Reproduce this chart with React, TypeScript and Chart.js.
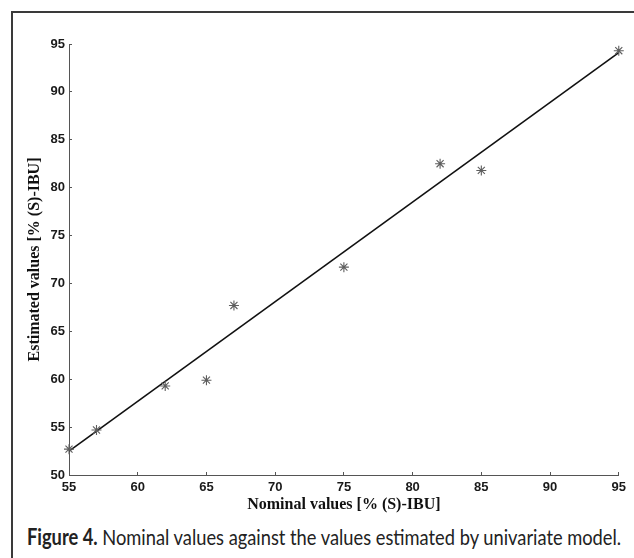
import React, { useEffect, useLayoutEffect, useRef } from "react";
import { Chart, registerables } from "chart.js";

Chart.register(...registerables);

// Data
const nominal = [55, 57, 62, 65, 67, 75, 82, 85, 95];
const estimated = [52.7, 54.7, 59.3, 59.9, 67.7, 71.7, 82.5, 81.8, 94.3];
const fitX = [55, 95];
const fitY = [52.5, 94.1];
const xTicks = [55, 60, 65, 70, 75, 80, 85, 90, 95];
const yTicks = [50, 55, 60, 65, 70, 75, 80, 85, 90, 95];

const xTitle = "Nominal values [% (S)-IBU]";
const yTitle = "Estimated values [% (S)-IBU]";

export default function App() {
  const ref = useRef<HTMLCanvasElement>(null);
  const capRef = useRef<HTMLDivElement>(null);

  useLayoutEffect(() => {
    const el = capRef.current;
    if (el) {
      const w = el.offsetWidth;
      if (w > 0) el.style.transform = `scaleX(${594 / w})`;
    }
  }, []);

  useEffect(() => {
    const tickFont = { family: "'Liberation Sans', Arial, sans-serif", weight: "bold" as const, size: 13 };
    const titleFont = { family: "'Liberation Serif', 'Times New Roman', serif", weight: "bold" as const, size: 16 };
    const chart = new Chart(ref.current!, {
      type: "scatter",
      data: {
        datasets: [
          {
            data: fitX.map((x, i) => ({ x, y: fitY[i] })),
            showLine: true,
            borderColor: "#111",
            borderWidth: 1.6,
            pointRadius: 0,
            order: 2,
            clip: false,
          },
          {
            data: nominal.map((x, i) => ({ x, y: estimated[i] })),
            showLine: false,
            pointStyle: "star",
            pointRadius: 5,
            borderColor: "#5e5e5e",
            backgroundColor: "#5e5e5e",
            borderWidth: 1.1,
            order: 1,
            clip: false,
          },
        ],
      },
      options: {
        responsive: false,
        animation: false,
        layout: { padding: { left: 0, top: 44, right: 14, bottom: 0 } },
        plugins: { legend: { display: false }, tooltip: { enabled: false } },
        scales: {
          x: {
            type: "linear",
            min: 55,
            max: 95,
            afterBuildTicks: (s: any) => {
              s.ticks = xTicks.map((v) => ({ value: v }));
            },
            afterFit: (s: any) => {
              s.height = 45;
            },
            grid: { drawOnChartArea: false, tickLength: -3, color: "#555", lineWidth: 1 },
            border: { color: "#555", width: 1 },
            ticks: { font: tickFont, color: "#1a1a1a", padding: 8, maxRotation: 0, autoSkip: false },
            title: {
              display: true,
              text: xTitle,
              font: titleFont,
              color: "#111",
              padding: { top: 0, bottom: 5.4 },
            },
          },
          y: {
            type: "linear",
            min: 50,
            max: 95,
            afterBuildTicks: (s: any) => {
              s.ticks = yTicks.map((v) => ({ value: v }));
            },
            afterFit: (s: any) => {
              s.width = 69;
            },
            grid: { drawOnChartArea: false, tickLength: -3, color: "#555", lineWidth: 1 },
            border: { color: "#555", width: 1 },
            ticks: { font: tickFont, color: "#1a1a1a", padding: 7, autoSkip: false },
            title: {
              display: true,
              text: yTitle,
              font: titleFont,
              color: "#111",
              padding: { top: 25.4, bottom: 0 },
            },
          },
        },
      },
    });
    return () => chart.destroy();
  }, []);

  return (
    <div
      style={{
        position: "absolute",
        left: 0,
        top: 0,
        width: 634,
        height: 558,
        background: "#fff",
        overflow: "hidden",
      }}
    >
      <div
        style={{
          position: "absolute",
          left: 11,
          top: 11,
          width: 640,
          height: 560,
          borderLeft: "2px solid #3a3a3a",
          borderTop: "2px solid #3a3a3a",
        }}
      />
      <canvas
        ref={ref}
        width={634}
        height={520}
        style={{ position: "absolute", left: 0, top: 0, width: 634, height: 520 }}
      />
      <div
        ref={capRef}
        style={{
          position: "absolute",
          left: 27,
          top: 524,
          fontFamily: "Lato, 'Open Sans', sans-serif",
          fontSize: 22,
          lineHeight: "26px",
          color: "#222",
          whiteSpace: "nowrap",
          transformOrigin: "0 0",
        }}
      >
        <b>Figure 4.</b> Nominal values against the values estimated by univariate model.
      </div>
    </div>
  );
}
